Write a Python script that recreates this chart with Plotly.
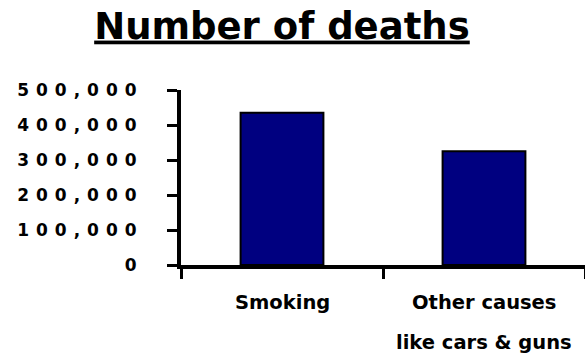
import plotly.graph_objects as go

# Annual deaths by cause
categories = ["Smoking", "Other causes like cars & guns"]
label_line1 = ["Smoking", "Other causes"]
label_line2 = ["", "like cars & guns"]
deaths = [435000, 325000]

y_tickvals = [0, 100000, 200000, 300000, 400000, 500000]
y_ticktext = ["0", "100,000", "200,000", "300,000", "400,000", "500,000"]

fig = go.Figure(
    go.Bar(
        x=categories,
        y=deaths,
        width=0.41,
        marker=dict(color="#000080", line=dict(color="black", width=2)),
    )
)

label_font = dict(family="DejaVu Sans", size=19.5, color="black", weight="bold")
for cat, l1, l2 in zip(categories, label_line1, label_line2):
    fig.add_annotation(x=cat, xref="x", y=0, yref="paper", yshift=-37,
                       text=l1, showarrow=False, font=label_font,
                       xanchor="center", yanchor="middle")
    if l2:
        fig.add_annotation(x=cat, xref="x", y=0, yref="paper", yshift=-77,
                           text=l2, showarrow=False, font=label_font,
                           xanchor="center", yanchor="middle")

fig.update_layout(
    width=585,
    height=356,
    margin=dict(l=181, r=0, t=90, b=91),
    paper_bgcolor="white",
    plot_bgcolor="white",
    showlegend=False,
    title=dict(
        text="<u>Number of deaths</u>",
        font=dict(family="DejaVu Sans", size=37, color="black", weight="bold"),
        xref="container", x=0.482, xanchor="center",
        yref="container", y=0.928, yanchor="middle",
    ),
    xaxis=dict(
        showline=True, linecolor="black", linewidth=4,
        ticks="outside", tickson="boundaries", ticklen=10, tickwidth=3,
        tickcolor="black", showticklabels=False, showgrid=False,
        zeroline=False,
    ),
    yaxis=dict(
        range=[0, 500000],
        tickvals=y_tickvals, ticktext=y_ticktext,
        showline=True, linecolor="black", linewidth=4,
        ticks="outside", ticklen=10, tickwidth=3, tickcolor="black",
        ticklabelstandoff=20,
        tickfont=dict(family="DejaVu Sans", size=17, color="black", weight="bold"),
        showgrid=False, zeroline=False,
    ),
)

# Wide tracking on the value labels
post = ("var s=document.createElement('style');"
        "s.textContent='.ytick text{letter-spacing:7px}';"
        "document.head.appendChild(s);")

fig.write_html("out.html", post_script=post)
